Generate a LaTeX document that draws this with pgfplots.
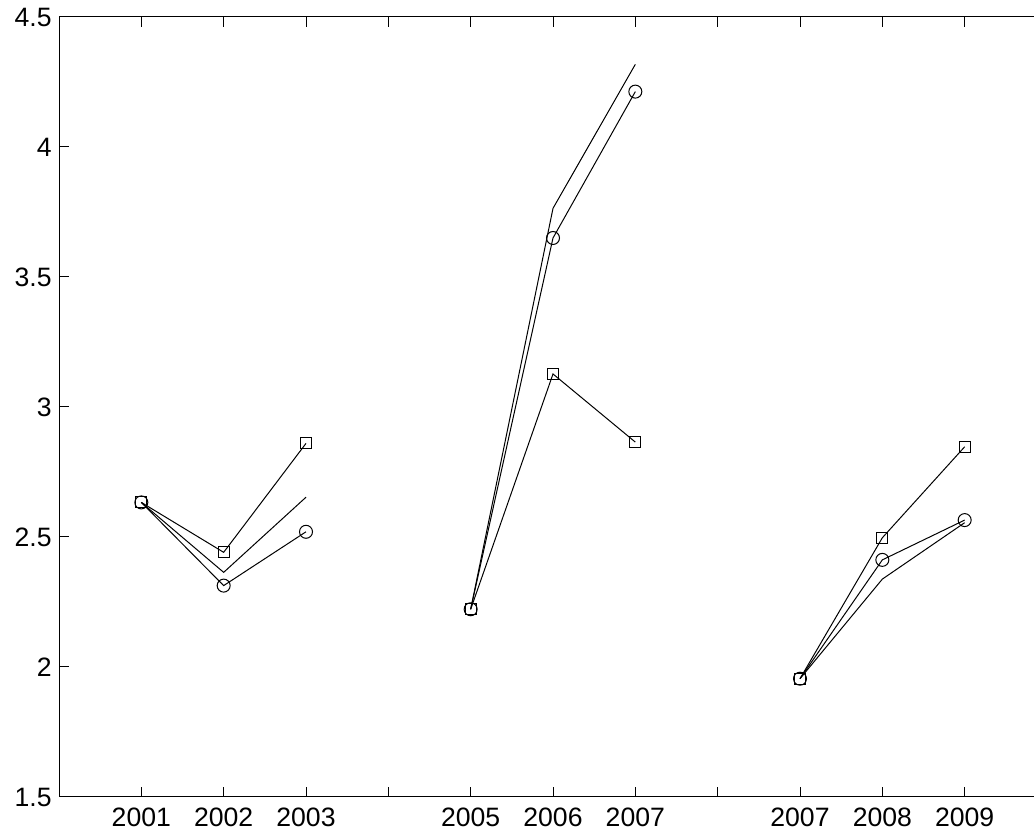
\documentclass[border=0pt]{standalone}
\usepackage{fontspec}
\setmainfont{Liberation Sans}
\usepackage{pgfplots}
\pgfplotsset{compat=1.18}
\begin{document}
\begin{tikzpicture}
\begin{axis}[
  at={(0,0)}, anchor=south west,
  scale only axis, width=494pt, height=390pt,
  xmin=0, xmax=12, ymin=1.5, ymax=4.5,
  xtick={1,2,3,4,5,6,7,8,9,10,11},
  xticklabels={2001,2002,2003,,2005,2006,2007,,2007,2008,2009},
  ytick={1.5,2,2.5,3,3.5,4,4.5},
  tick align=inside, major tick length=5pt,
  tick style={black, line width=0.5pt},
  axis line style={black, line width=0.5pt},
  /pgf/number format/assume math mode=true,
  tick label style={font=\fontsize{13.3pt}{16pt}\selectfont, inner sep=0pt},
  xticklabel shift=5.5pt,
  yticklabel shift=3.5pt,
  every axis plot/.append style={black, line width=0.5pt},
]
% group 1
\addplot[mark=o, mark size=3.25pt] coordinates {(1,2.633) (2,2.313) (3,2.520)};
\addplot[mark=square, mark size=2.75pt] coordinates {(1,2.633) (2,2.441) (3,2.860)};
\addplot[no marks] coordinates {(1,2.633) (2,2.364) (3,2.653)};
% group 2
\addplot[mark=o, mark size=3.25pt] coordinates {(5,2.222) (6,3.650) (7,4.213)};
\addplot[mark=square, mark size=2.75pt] coordinates {(5,2.222) (6,3.127) (7,2.865)};
\addplot[no marks] coordinates {(5,2.222) (6,3.764) (7,4.318)};
% group 3
\addplot[mark=o, mark size=3.25pt] coordinates {(9,1.955) (10,2.412) (11,2.565)};
\addplot[mark=square, mark size=2.75pt] coordinates {(9,1.955) (10,2.497) (11,2.847)};
\addplot[no marks] coordinates {(9,1.955) (10,2.338) (11,2.555)};
\end{axis}
\pgfresetboundingbox
\path[use as bounding box] (-29.5pt,-18.5pt) rectangle (487.5pt,398.5pt);
\end{tikzpicture}
\end{document}
